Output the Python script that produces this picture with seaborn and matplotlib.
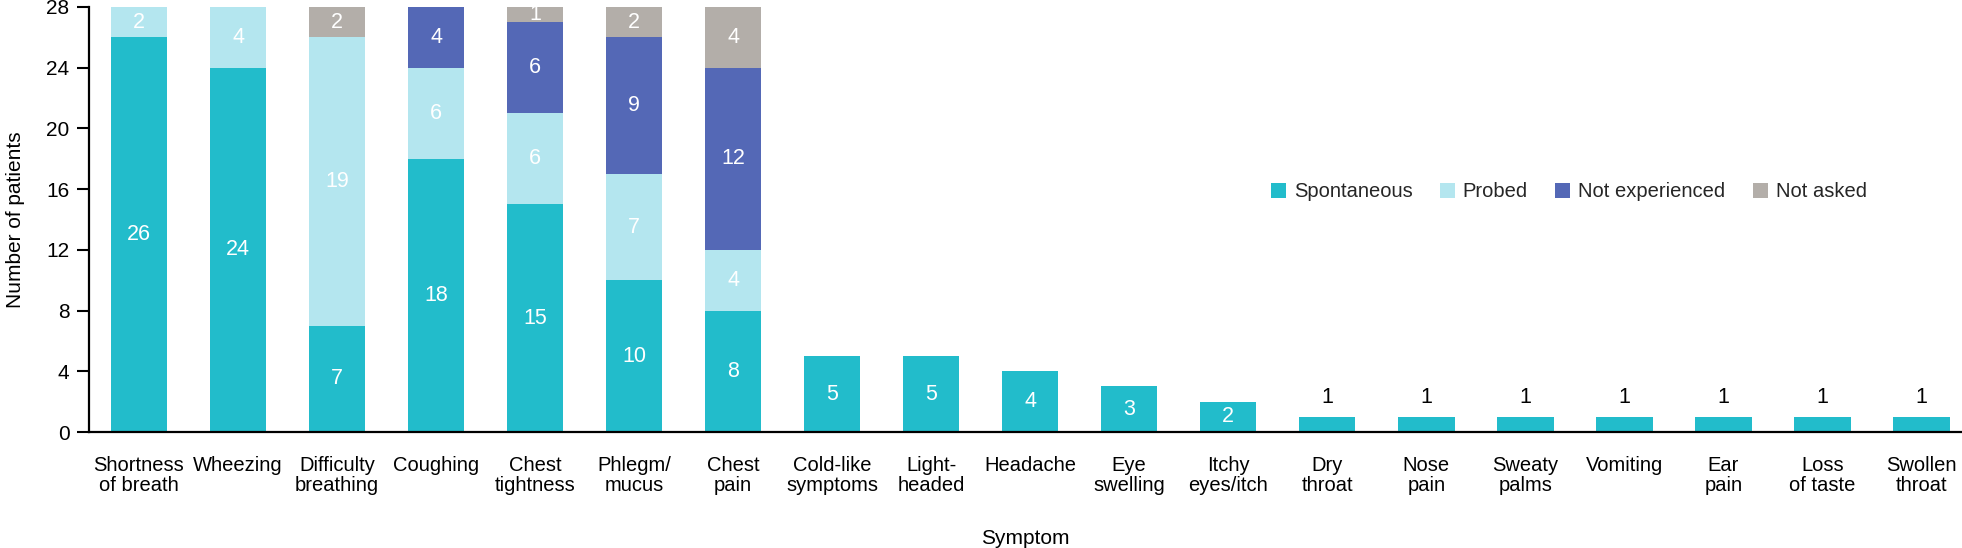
import matplotlib
matplotlib.use("Agg")
import matplotlib.pyplot as plt
from matplotlib.patches import Patch
import seaborn as sns
import numpy as np
import pandas as pd

categories = ["Shortness\nof breath", "Wheezing", "Difficulty\nbreathing", "Coughing",
              "Chest\ntightness", "Phlegm/\nmucus", "Chest\npain", "Cold-like\nsymptoms",
              "Light-\nheaded", "Headache", "Eye\nswelling", "Itchy\neyes/itch", "Dry\nthroat",
              "Nose\npain", "Sweaty\npalms", "Vomiting", "Ear\npain", "Loss\nof taste",
              "Swollen\nthroat"]
spontaneous = [26, 24, 7, 18, 15, 10, 8, 5, 5, 4, 3, 2, 1, 1, 1, 1, 1, 1, 1]
probed = [2, 4, 19, 6, 6, 7, 4, 0, 0, 0, 0, 0, 0, 0, 0, 0, 0, 0, 0]
not_experienced = [0, 0, 0, 4, 6, 9, 12, 0, 0, 0, 0, 0, 0, 0, 0, 0, 0, 0, 0]
not_asked = [0, 0, 2, 0, 1, 2, 4, 0, 0, 0, 0, 0, 0, 0, 0, 0, 0, 0, 0]
series_names = ["Spontaneous", "Probed", "Not experienced", "Not asked"]
yticks = [0, 4, 8, 12, 16, 20, 24, 28]

colors = ["#22BCCB", "#B4E6EF", "#5468B6", "#B3AEA9"]

sns.set_theme(style="white")
plt.rcParams["font.family"] = ["Liberation Sans", "DejaVu Sans"]

layers = [spontaneous, probed, not_experienced, not_asked]
cum = np.cumsum(np.array(layers), axis=0)

fig = plt.figure(figsize=(19.62, 5.48), dpi=100)
ax = fig.add_axes([89 / 1962, (548 - 432) / 548, (1962 - 89) / 1962, 425 / 548])

for i in reversed(range(len(layers))):
    df = pd.DataFrame({"Symptom": categories, "val": cum[i]})
    sns.barplot(data=df, x="Symptom", y="val", order=categories, color=colors[i],
                saturation=1, width=0.57, ax=ax, linewidth=0, errorbar=None)

# value labels
for j in range(len(categories)):
    total = cum[-1][j]
    bottom = 0
    for i, layer in enumerate(layers):
        v = layer[j]
        if v > 0:
            if total == 1:
                ax.text(j, v + 1.3, str(v), ha="center", va="center",
                        color="black", fontsize=15.5)
            else:
                ax.text(j, bottom + v / 2, str(v), ha="center", va="center",
                        color="white", fontsize=15.5)
        bottom += v

ax.set_ylim(0, 28)
ax.set_xlim(-0.505, 18.41)
ax.set_yticks(yticks)
ax.set_yticklabels([str(t) for t in yticks], fontsize=15, color="black")
ax.tick_params(axis="y", length=9, width=1.5, pad=5, left=True, color="black")
ax.tick_params(axis="x", length=0, pad=17, labelsize=14.5, labelcolor="black")
for lab in ax.get_xticklabels():
    lab.set_linespacing(1.08)
    lab.set_verticalalignment("top")

for s in ["top", "right"]:
    ax.spines[s].set_visible(False)
for s in ["left", "bottom"]:
    ax.spines[s].set_linewidth(1.6)
    ax.spines[s].set_color("black")

ax.set_xlabel("Symptom", fontsize=15, color="black")
ax.set_ylabel("Number of patients", fontsize=15, color="black")
ax.xaxis.label.set_verticalalignment("center")
ax.yaxis.label.set_verticalalignment("center")
ax.xaxis.set_label_coords(0.5, -0.25)
ax.yaxis.set_label_coords(-0.039, 0.5)

handles = [Patch(facecolor=c, edgecolor="none", label=n) for c, n in zip(colors, series_names)]
ax.legend(handles=handles, loc="center", bbox_to_anchor=(0.79, 0.565), ncol=4,
          frameon=False, fontsize=14.5, handlelength=0.75, handleheight=0.75,
          handletextpad=0.4, columnspacing=1.35)

fig.savefig("out.png", dpi=100)
